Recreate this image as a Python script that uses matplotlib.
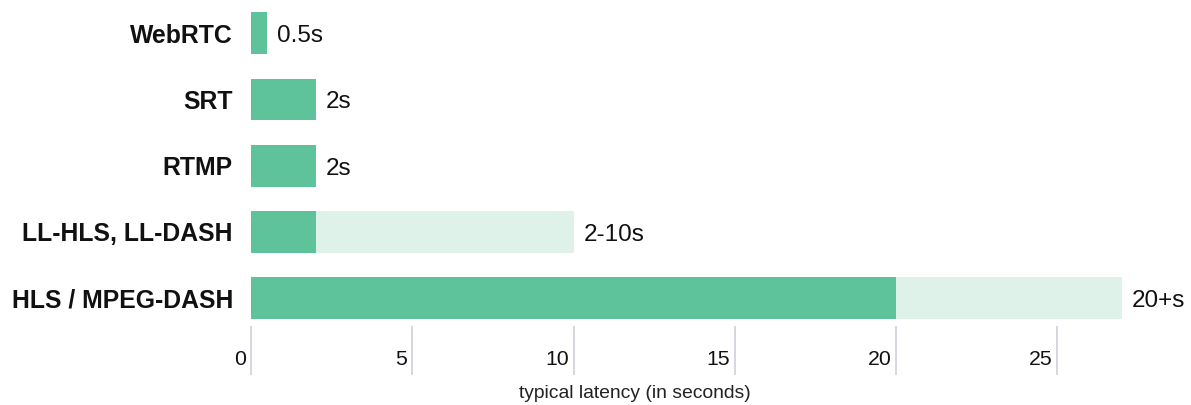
import matplotlib.pyplot as plt
from matplotlib.transforms import offset_copy

# Typical glass-to-glass latency per streaming protocol
protocols = ['WebRTC', 'SRT', 'RTMP', 'LL-HLS, LL-DASH', 'HLS / MPEG-DASH']
latency_low = [0.5, 2, 2, 2, 20]      # solid part of the bar
latency_high = [0.5, 2, 2, 10, 27]    # pale extension for the upper end of the range
value_labels = ['0.5s', '2s', '2s', '2-10s', '20+s']
x_ticks = [0, 5, 10, 15, 20, 25]

dark_green = '#5ec29a'
light_green = '#dff2e9'

plt.rcParams['font.family'] = ['Liberation Sans', 'DejaVu Sans']

fig = plt.figure(figsize=(11.91, 4.05), dpi=100)
ax = fig.add_axes([251 / 1191, 30 / 405, 871 / 1191, 375 / 405])

y = list(range(len(protocols)))
bar_h = 0.63

# pale range first, solid lower bound on top
ax.barh(y, latency_high, height=bar_h, color=light_green, zorder=1)
ax.barh(y, latency_low, height=bar_h, color=dark_green, zorder=2)

# value labels just after the end of each bar
for yi, hi, lab in zip(y, latency_high, value_labels):
    ax.text(hi, yi, lab, ha='left', va='center', fontsize=17.5, color='#111111',
            transform=offset_copy(ax.transData, fig=fig, x=7.2, y=-2.2, units='points'),
            clip_on=False)

ax.set_xlim(0, 27)
ax.set_ylim(5.16, -0.5)

# protocol names on the left
ax.set_yticks(y)
ax.set_yticklabels(protocols, fontsize=17.8, fontweight='bold', color='#111111')
ax.tick_params(axis='y', length=0, pad=13)
ax.set_xticks([])

# short vertical tick lines under the bars, number to their left
ax.vlines(x_ticks, 4.415, 5.16, color='#cfd0da', linewidth=1.2, clip_on=False, zorder=0)
for t in x_ticks:
    ax.text(t, 4.89, str(t), ha='right', va='center', fontsize=15.3, color='#111111',
            transform=offset_copy(ax.transData, fig=fig, x=-3.6, y=-1.5, units='points'),
            clip_on=False)

fig.text(635 / 1191, 1 - 393 / 405, 'typical latency (in seconds)', ha='center', va='center',
         fontsize=13.9, color='#222222')

for s in ax.spines.values():
    s.set_visible(False)

fig.savefig('out.png', dpi=100)
